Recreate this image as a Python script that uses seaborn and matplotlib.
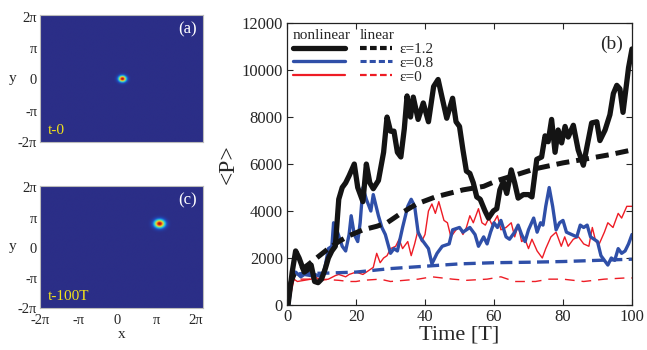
import numpy as np
import matplotlib
matplotlib.use("Agg")
import matplotlib.pyplot as plt
from matplotlib.colors import LinearSegmentedColormap
from matplotlib.lines import Line2D
import seaborn as sns

# ---- data ----
t_nl_12 = [0.3, 1.5, 2.5, 3.5, 5, 6, 7, 8, 9, 10, 11, 12, 13, 14, 15, 16, 17, 18, 19.5, 20.5,
           22, 23, 24, 25, 26.5, 28, 29, 30, 31, 32, 33, 34, 34.8, 35.8, 36.6, 38, 39.5, 41, 42.5, 43.8,
           45, 46.3, 48, 49, 50, 51, 52, 53, 54, 55, 56, 57.4, 58.4, 59.8, 60.8, 61.7, 62.7, 63.7, 65, 66,
           67, 68.5, 70, 71, 72.4, 73.8, 74.8, 75.7, 76.7, 77.7, 78.6, 79.6, 80.6, 81.5, 83, 84.4, 85.9, 87.3, 88.3, 89.8,
           90.7, 92.2, 93.6, 94.6, 95.6, 96.5, 97.4, 99, 100]
p_nl_12 = [0, 1400, 2300, 2000, 1400, 1500, 1700, 1000, 950, 1100, 1500, 2000, 2300, 2500, 4500, 5000, 5200, 5500, 6000, 5000,
           4400, 6000, 5200, 4950, 5300, 6500, 8000, 7400, 7400, 6500, 6300, 7500, 8900, 8000, 8850, 7900, 8600, 7800, 9300, 9600,
           8800, 7950, 8800, 7800, 7600, 6600, 5700, 5600, 5200, 4600, 4500, 4000, 3700, 4000, 4100, 4900, 5250, 4750, 5750, 5200,
           4550, 4700, 4700, 4600, 6200, 6300, 7200, 6950, 7900, 6500, 7450, 6900, 7600, 7150, 7650, 6600, 5950, 7000, 7750, 7800,
           7000, 7450, 8100, 9000, 9350, 9200, 8200, 10100, 10900]

t_lin_12 = [0, 1, 2, 4, 6, 9, 12, 15, 18, 22, 26, 29, 33, 37.6, 43, 51, 57, 61, 66.6, 72, 80, 86, 93.6, 100]
p_lin_12 = [0, 900, 1300, 1500, 1700, 2050, 2400, 2700, 2950, 3200, 3350, 3500, 3900, 4300, 4600, 4900, 5050, 5300,
            5550, 5800, 6050, 6200, 6400, 6600]

t_nl_08 = [0.5, 1.5, 2.5, 4, 5, 7, 8, 9, 10, 11, 12, 13, 13.5, 14.2, 16, 17, 18, 18.6, 19.5, 20.5,
           21.2, 22, 23, 24.3, 25, 26.5, 27.5, 28.5, 30, 31, 32, 33.5, 35, 36, 37, 38, 39, 41, 42, 43.5,
           45, 47, 48, 50, 51, 53, 54.5, 55.5, 57, 58, 59, 60, 61, 62, 63.5, 64.5, 66, 67, 68, 69,
           70, 71.5, 72.5, 73.5, 74.2, 75, 76, 77, 78, 79, 80, 81, 82.5, 84, 85, 86, 87, 88, 89, 90,
           91, 92, 93, 94, 95, 96, 97, 98, 99, 100]
p_nl_08 = [0, 1300, 1400, 1200, 1300, 1250, 1300, 1250, 1200, 1600, 2400, 2500, 3500, 3300, 2500, 2300, 3000, 3800, 3000, 2700,
           3500, 5000, 4500, 4000, 4700, 3800, 3300, 3000, 2200, 2400, 2300, 3300, 4200, 4500, 4200, 3100, 2800, 2400, 1750, 2200,
           2500, 2600, 3200, 3300, 3100, 3300, 3000, 2500, 2900, 2600, 3100, 3500, 3300, 3600, 2900, 2800, 3100, 3400, 3000, 2700,
           3200, 3700, 3100, 3500, 3400, 4200, 5000, 4200, 3200, 3500, 3600, 3100, 3000, 2900, 3400, 3300, 3400, 2900, 2800, 2700,
           2100, 1900, 1700, 2000, 1900, 2400, 2200, 2300, 2600, 3000]

t_lin_08 = [0, 1, 2, 5, 10, 20, 30, 40, 50, 60, 70, 80, 90, 100]
p_lin_08 = [0, 900, 1300, 1350, 1350, 1400, 1550, 1650, 1750, 1800, 1820, 1850, 1900, 1950]

t_nl_0 = [0.5, 2, 3, 5, 7, 8, 10, 12, 14, 15, 17, 18, 20, 22, 24, 25, 26, 27, 28, 29,
          30, 31.5, 32.5, 33.5, 35, 36, 37, 38, 39, 40, 41, 42, 43, 44, 45.5, 46.5, 47.5, 49, 50, 51,
          52, 53, 54, 55.5, 56.5, 57.5, 58.5, 59.5, 61, 62, 63.5, 65, 66, 67, 68, 69, 70, 71, 72.5, 74,
          75, 76.5, 78, 79.5, 80.5, 81.5, 83, 84.5, 86, 87.5, 88.5, 89.5, 90.5, 92, 93, 94.5, 96, 97, 98.5, 100]
p_nl_0 = [0, 1100, 1000, 1050, 1100, 1200, 1050, 1100, 1250, 1300, 1200, 1300, 1400, 1300, 1500, 1600, 2200, 1800, 2000, 2100,
          2400, 2500, 2800, 2400, 2700, 2100, 2600, 3200, 2700, 3000, 4000, 4300, 3900, 4400, 3600, 3500, 2900, 3200, 3300, 3000,
          3300, 3800, 3500, 4100, 3500, 3400, 3700, 3400, 3800, 3200, 3300, 3500, 2900, 3400, 2700, 2800, 2400, 2800, 2300, 2000,
          2400, 2900, 3100, 2500, 2900, 2500, 2800, 2900, 2600, 2500, 3300, 2700, 2600, 3100, 3500, 3300, 3900, 3700, 4200, 4200]

t_lin_0 = [0, 2, 5, 10, 15, 18, 20, 22, 27, 30, 34, 38, 42, 45, 48, 52, 58, 62, 66, 72, 76, 80, 86, 92, 98, 100]
p_lin_0 = [0, 1100, 1100, 1100, 1050, 1000, 1000, 1050, 1100, 1000, 1050, 1100, 1200, 1150, 1100, 1050, 1100, 1200,
           1000, 1000, 1100, 1100, 1000, 1100, 1150, 1150]

eps_labels = ["ε=1.2", "ε=0.8", "ε=0"]

# wave packet snapshots: centre (x, y) and width, in radians
spot_center_a = (0.35, 0.0)
spot_width_a = 0.22
spot_center_c = (3.35, 2.45)
spot_width_c = 0.3
panel_labels = ["(a)", "(c)"]
time_labels = ["t-0", "t-100T"]

# ---- styling ----
sns.set_style("ticks")
plt.rcParams["font.family"] = ["Liberation Serif", "DejaVu Serif"]

c_black = "#141414"
c_blue = "#2f4fa8"
c_red = "#ee1c25"

fig = plt.figure(figsize=(6.47, 3.5), dpi=100)

# ---- main panel (b) ----
ax = fig.add_axes([0.4436, 0.1286, 0.5332, 0.8054])
sns.lineplot(x=t_lin_0, y=p_lin_0, ax=ax, color=c_red, lw=1.0, linestyle=(0, (7, 5)))
sns.lineplot(x=t_nl_0, y=p_nl_0, ax=ax, color=c_red, lw=1.0)
sns.lineplot(x=t_lin_08, y=p_lin_08, ax=ax, color=c_blue, lw=2.4, linestyle=(0, (3.6, 1.9)))
sns.lineplot(x=t_nl_08, y=p_nl_08, ax=ax, color=c_blue, lw=2.4)
sns.lineplot(x=t_lin_12, y=p_lin_12, ax=ax, color=c_black, lw=3.6, linestyle=(0, (2.6, 1.4)))
sns.lineplot(x=t_nl_12, y=p_nl_12, ax=ax, color=c_black, lw=3.8)

ax.set_xlim(0, 100)
ax.set_ylim(0, 12000)
ax.set_xticks(np.arange(0, 101, 20))
ax.set_yticks(np.arange(0, 12001, 2000))
ax.tick_params(direction="in", top=True, right=True, labelsize=12, length=4, width=0.8, pad=3)
for s in ax.spines.values():
    s.set_linewidth(0.9)
    s.set_color("#222222")
ax.set_xlabel("Time [T]", fontsize=16, labelpad=0)
ax.set_ylabel("<P>", fontsize=17, labelpad=2)
ax.text(0.975, 0.955, "(b)", transform=ax.transAxes, ha="right", va="top", fontsize=14)

# legend: nonlinear column (solid) + linear column (dashed)
solid_h = [Line2D([], [], color=c_black, lw=3.8),
           Line2D([], [], color=c_blue, lw=2.4),
           Line2D([], [], color=c_red, lw=1.6)]
dash_h = [Line2D([], [], color=c_black, lw=3.0, linestyle=(0, (1.6, 0.8))),
          Line2D([], [], color=c_blue, lw=2.2, linestyle=(0, (2.0, 1.0))),
          Line2D([], [], color=c_red, lw=1.6, linestyle=(0, (3.0, 1.5)))]
leg1 = ax.legend(solid_h, ["", "", ""], loc="upper left", bbox_to_anchor=(-0.01, 1.01),
                 frameon=False, fontsize=11, handlelength=3.4, handletextpad=0, labelspacing=0.0,
                 title="nonlinear", title_fontsize=11, alignment="left", borderaxespad=0.2)
ax.add_artist(leg1)
leg2 = ax.legend(dash_h, eps_labels, loc="upper left", bbox_to_anchor=(0.185, 1.01),
                 frameon=False, fontsize=11, handlelength=2.1, handletextpad=0.5, labelspacing=0.0,
                 title="linear", title_fontsize=11, alignment="left", borderaxespad=0.2)

# ---- snapshot panels (a) and (c) ----
cmap = LinearSegmentedColormap.from_list(
    "jetlike", ["#2b2e87", "#1d4fc4", "#1fa6e2", "#3dd8c6", "#c6e44a", "#f8c31c", "#e8351c", "#a80f18"])

xr = (-2 * np.pi, 2.2 * np.pi)
yr = (-2 * np.pi, 2.05 * np.pi)
gx = np.linspace(xr[0], xr[1], 300)
gy = np.linspace(yr[0], yr[1], 300)
GX, GY = np.meshgrid(gx, gy)

pi_ticks = [-2 * np.pi, -np.pi, 0, np.pi, 2 * np.pi]
pi_labels = ["-2π", "-π", "0", "π", "2π"]

panels = [([0.0618, 0.594, 0.252, 0.363], spot_center_a, spot_width_a),
          ([0.0618, 0.12, 0.252, 0.349], spot_center_c, spot_width_c)]
for i, (rect, cen, w) in enumerate(panels):
    pax = fig.add_axes(rect)
    field = np.exp(-((GX - cen[0]) ** 2 + (GY - cen[1]) ** 2) / (2 * w ** 2))
    pax.imshow(field, extent=[xr[0], xr[1], yr[0], yr[1]], origin="lower",
               cmap=cmap, vmin=0, vmax=1, aspect="auto", interpolation="bilinear")
    pax.set_xlim(*xr)
    pax.set_ylim(*yr)
    pax.set_yticks(pi_ticks)
    pax.set_yticklabels(pi_labels)
    pax.set_xticks(pi_ticks)
    if i == 1:
        pax.set_xticklabels(pi_labels)
        pax.set_xlabel("x", fontsize=11, labelpad=1)
    else:
        pax.set_xticklabels([])
    pax.tick_params(length=0, labelsize=10.5, pad=2)
    pax.tick_params(axis="x", pad=4)
    pax.set_ylabel("y", fontsize=11, rotation=0, labelpad=4, va="center")
    for s in pax.spines.values():
        s.set_color("#bbbbbb")
        s.set_linewidth(0.8)
    pax.text(0.96, 0.95, panel_labels[i], transform=pax.transAxes, ha="right", va="top",
             color="white", fontsize=12)
    pax.text(0.05, 0.04, time_labels[i], transform=pax.transAxes, ha="left", va="bottom",
             color="#f2e21b", fontsize=11)

fig.savefig("out.png", dpi=100)
